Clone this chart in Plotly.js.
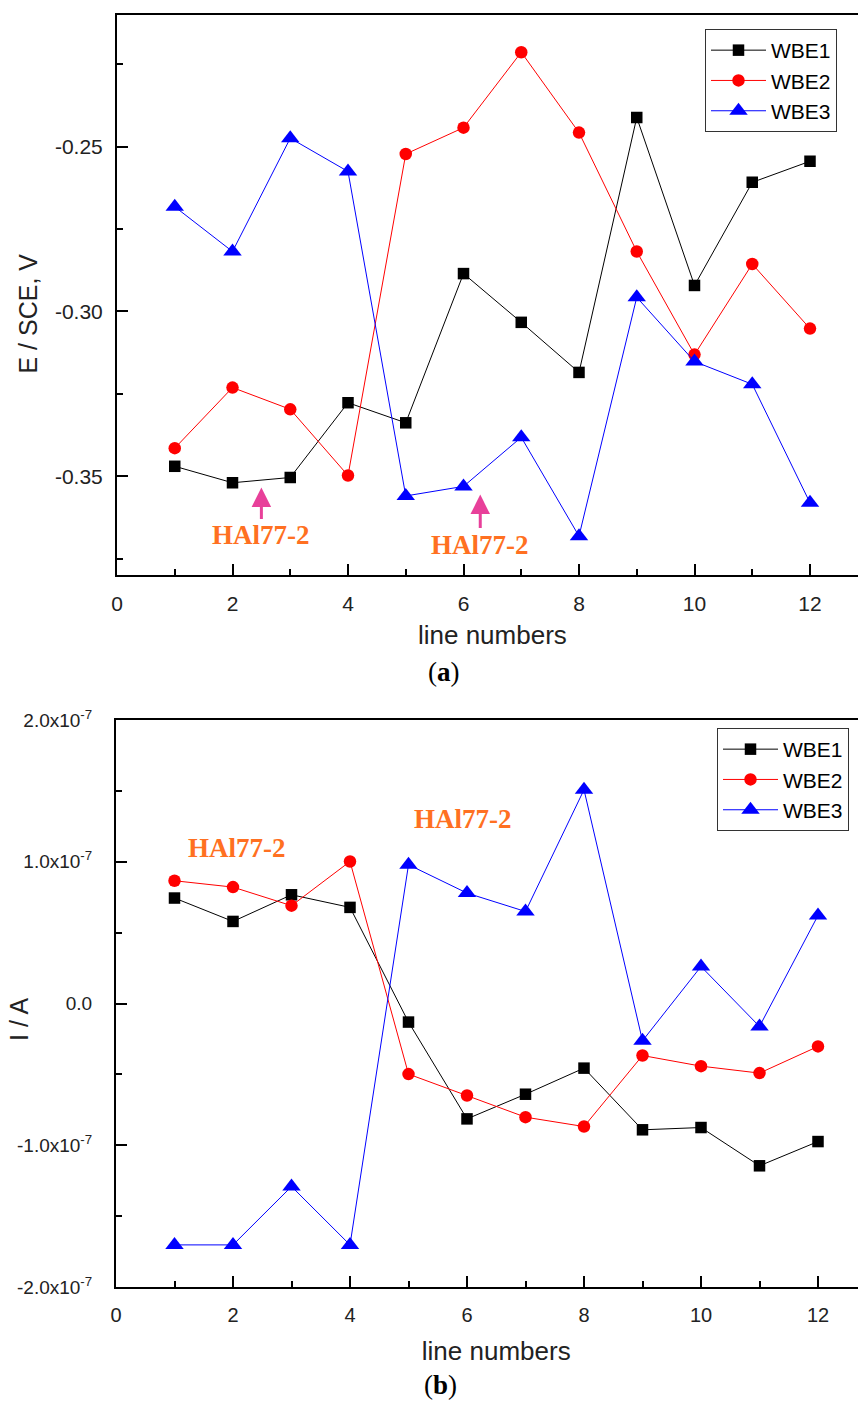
<!DOCTYPE html>
<html>
<head>
<meta charset="utf-8">
<script src="https://cdn.plot.ly/plotly-3.0.1.min.js"></script>
<style>
html, body { margin: 0; padding: 0; overflow: hidden; background: #fff; }
#chart { width: 900px; height: 1405px; }
</style>
</head>
<body>
<div id="chart"></div>
<script>
// ---- data ----
const lineNumbers = [1, 2, 3, 4, 5, 6, 7, 8, 9, 10, 11, 12];
const seriesNames = ['WBE1', 'WBE2', 'WBE3'];

// (a) potential E / SCE, V
const E_WBE1 = [-0.3470, -0.3520, -0.3504, -0.3277, -0.3338, -0.2885, -0.3033, -0.3185, -0.2411, -0.2921, -0.2608, -0.2544];
const E_WBE2 = [-0.3415, -0.3231, -0.3297, -0.3498, -0.2522, -0.2442, -0.2213, -0.2457, -0.2818, -0.3131, -0.2856, -0.3052];
const E_WBE3 = [-0.2682, -0.2818, -0.2474, -0.2575, -0.3560, -0.3531, -0.3382, -0.3682, -0.2957, -0.3152, -0.3221, -0.3581];

// (b) current I / A
const I_WBE1 = [7.44e-8, 5.79e-8, 7.67e-8, 6.78e-8, -1.31e-8, -8.14e-8, -6.40e-8, -4.56e-8, -8.91e-8, -8.75e-8, -1.145e-7, -9.74e-8];
const I_WBE2 = [8.66e-8, 8.21e-8, 6.90e-8, 1.002e-7, -4.98e-8, -6.49e-8, -8.02e-8, -8.68e-8, -3.67e-8, -4.42e-8, -4.91e-8, -3.03e-8];
const I_WBE3 = [-1.703e-7, -1.703e-7, -1.291e-7, -1.703e-7, 9.79e-8, 7.79e-8, 6.49e-8, 1.508e-7, -2.63e-8, 2.61e-8, -1.62e-8, 6.21e-8];

// tick labels
const E_tickVals = [-0.35, -0.30, -0.25];
const E_tickText = ['-0.35', '-0.30', '-0.25'];
const E_minorVals = [-0.375, -0.325, -0.275, -0.225];
const I_tickVals = [-2e-7, -1e-7, 0, 1e-7, 2e-7];
const I_tickText = ['-2.0x10<sup>-7</sup>', '-1.0x10<sup>-7</sup>', '0.0', '1.0x10<sup>-7</sup>', '2.0x10<sup>-7</sup>'];
const I_minorVals = [-1.5e-7, -0.5e-7, 0.5e-7, 1.5e-7];

// annotation label text and positions (data coords)
const labelText = 'HAl77-2';
const topArrowX = [2.5, 6.29];      // arrow tips (panel a)
const topArrowY = [-0.3534, -0.3556];
const botLabelX = [2.07, 5.93];     // labels (panel b)
const botLabelY = [1.10e-7, 1.30e-7];

// ---- styles ----
const colors = ['#000000', '#ff0000', '#0000ff'];
const symbols = ['square', 'circle', 'triangle-up'];
const sizes = [11.5, 12.5, 16];
const sans = 'Liberation Sans, Arial, sans-serif';
const serif = 'Liberation Serif, Times New Roman, serif';
const orange = '#ff7021';
const pink = '#e8409a';

function mk(y, i, xa, ya, legend) {
  return {
    x: lineNumbers, y: y, name: seriesNames[i], type: 'scatter', mode: 'lines+markers',
    xaxis: xa, yaxis: ya, legend: legend,
    line: {color: colors[i], width: 1},
    marker: {symbol: symbols[i], size: sizes[i], color: colors[i]}
  };
}

const traces = [
  mk(E_WBE1, 0, 'x', 'y', 'legend'),
  mk(E_WBE2, 1, 'x', 'y', 'legend'),
  mk(E_WBE3, 2, 'x', 'y', 'legend'),
  mk(I_WBE1, 0, 'x2', 'y2', 'legend2'),
  mk(I_WBE2, 1, 'x2', 'y2', 'legend2'),
  mk(I_WBE3, 2, 'x2', 'y2', 'legend2')
];

const W = 900, H = 1405;
function px(x) { return x / W; }
function py(y) { return 1 - y / H; }

const axisCommon = {
  showline: true, linecolor: '#000', linewidth: 2, mirror: true,
  ticks: 'inside', ticklen: 11, tickwidth: 2, tickcolor: '#000',
  showgrid: false, zeroline: false,
  tickfont: {family: sans, size: 21, color: '#222'}
};

const xCommon = Object.assign({}, axisCommon, {
  range: [0, 13], tickmode: 'linear', tick0: 0, dtick: 2,
  minor: {ticks: 'inside', ticklen: 6, tickwidth: 2, tickcolor: '#000', dtick: 1, tick0: 0},
  ticklabelstandoff: 9
});

const legendCommon = {
  xanchor: 'left', yanchor: 'top',
  bgcolor: '#fff', bordercolor: '#333', borderwidth: 1,
  font: {family: sans, size: 21, color: '#000'}, itemwidth: 55, tracegroupgap: 0
};

const layout = {
  width: W, height: H,
  margin: {l: 0, r: 0, t: 0, b: 0},
  paper_bgcolor: '#fff', plot_bgcolor: '#fff',
  showlegend: true,
  xaxis: Object.assign({}, xCommon, {domain: [px(117), px(867.75)], anchor: 'y',
    title: {text: 'line numbers', font: {family: sans, size: 26, color: '#222'}, standoff: 12}}),
  yaxis: Object.assign({}, axisCommon, {
    domain: [py(575), py(15)], anchor: 'x', range: [-0.38, -0.21],
    tickmode: 'array', tickvals: E_tickVals, ticktext: E_tickText,
    minor: {tickmode: 'array', tickvals: E_minorVals, ticks: 'inside', ticklen: 6, tickwidth: 2, tickcolor: '#000'},
    ticklabelstandoff: 8
  }),
  xaxis2: Object.assign({}, xCommon, {domain: [px(116), px(876.5)], anchor: 'y2',
    tickfont: {family: sans, size: 20, color: '#222'},
    title: {text: 'line numbers', font: {family: sans, size: 26, color: '#222'}, standoff: 17}}),
  yaxis2: Object.assign({}, axisCommon, {
    domain: [py(1287), py(720)], anchor: 'x2', range: [-2e-7, 2e-7],
    tickmode: 'array', tickvals: I_tickVals, ticktext: I_tickText,
    minor: {tickmode: 'array', tickvals: I_minorVals, ticks: 'inside', ticklen: 6, tickwidth: 2, tickcolor: '#000'},
    tickfont: {family: sans, size: 19, color: '#222'},
    ticklabelstandoff: 18
  }),
  legend: Object.assign({}, legendCommon, {x: px(705), y: py(29)}),
  legend2: Object.assign({}, legendCommon, {x: px(717), y: py(728)}),
  annotations: []
};

const ann = layout.annotations;
// y-axis titles
ann.push({xref: 'paper', yref: 'paper', x: px(27.5), y: py(314), text: 'E / SCE, V', showarrow: false, textangle: -90,
  font: {family: sans, size: 25, color: '#222'}, xanchor: 'center', yanchor: 'middle'});
ann.push({xref: 'paper', yref: 'paper', x: px(19), y: py(1020), text: 'I / A', showarrow: false, textangle: -90,
  font: {family: sans, size: 25, color: '#222'}, xanchor: 'center', yanchor: 'middle'});
// panel labels
ann.push({xref: 'paper', yref: 'paper', x: px(444), y: py(672), text: '(<b>a</b>)', showarrow: false,
  font: {family: serif, size: 27, color: '#000'}, xanchor: 'center', yanchor: 'middle'});
ann.push({xref: 'paper', yref: 'paper', x: px(440), y: py(1385), text: '(<b>b</b>)', showarrow: false,
  font: {family: serif, size: 27, color: '#000'}, xanchor: 'center', yanchor: 'middle'});
// HAl77-2 labels: panel (a) with arrows pointing up, panel (b) plain
const arrowAy = [48, 50];
for (let k = 0; k < 2; k++) {
  ann.push({xref: 'x', yref: 'y', x: topArrowX[k], y: topArrowY[k], text: '<b>' + labelText + '</b>',
    showarrow: true, ax: 0, ay: arrowAy[k], arrowhead: 2, arrowsize: 1.3, arrowwidth: 3, arrowcolor: pink,
    font: {family: serif, size: 27, color: orange}});
  ann.push({xref: 'x2', yref: 'y2', x: botLabelX[k], y: botLabelY[k], text: '<b>' + labelText + '</b>', showarrow: false,
    font: {family: serif, size: 27, color: orange}, xanchor: 'center', yanchor: 'middle'});
}

Plotly.newPlot('chart', traces, layout, {displayModeBar: false, staticPlot: true});
</script>
</body>
</html>
